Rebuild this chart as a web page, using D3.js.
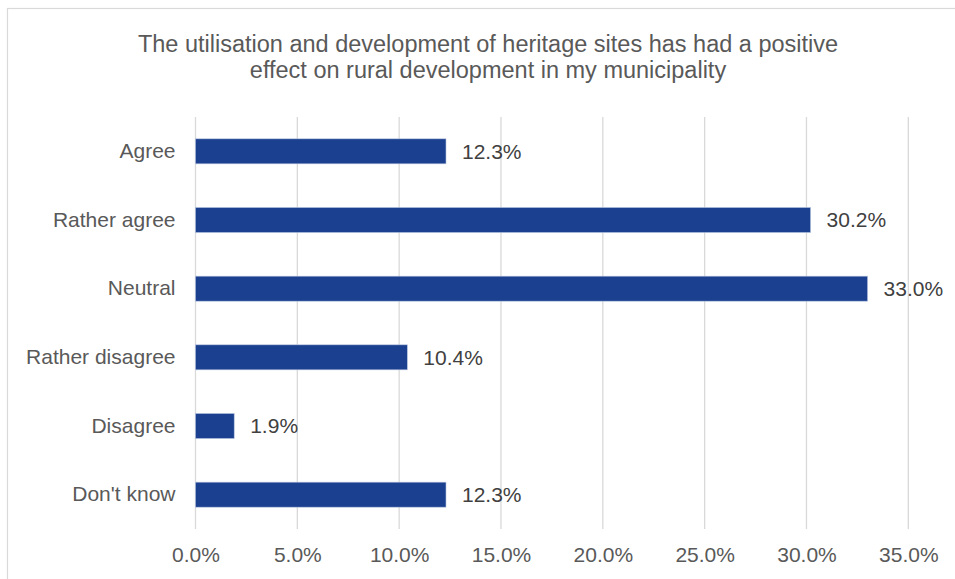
<!DOCTYPE html>
<html>
<head>
<meta charset="utf-8">
<script src="https://cdn.jsdelivr.net/npm/d3@7"></script>
<style>
  body { margin: 0; background: #fff; }
  svg { display: block; font-family: "Liberation Sans", Arial, sans-serif; }
</style>
</head>
<body>
<svg id="chart"></svg>
<script>
const width = 955;
const height = 579;
const titleLines = ["The utilisation and development of heritage sites has had a positive",
                    "effect on rural development in my municipality"];
const categories = ["Agree", "Rather agree", "Neutral", "Rather disagree", "Disagree", "Don't know"];
const values = [0.123, 0.302, 0.330, 0.104, 0.019, 0.123];
const tickValues = [0, 0.05, 0.10, 0.15, 0.20, 0.25, 0.30, 0.35];

const plotLeft = 195.5, plotRight = 908.3, plotTop = 117, plotBottom = 529;

const svg = d3.select('#chart').attr('width', width).attr('height', height);

// chart frame (runs off the right/bottom edge in the original)
svg.append('rect')
  .attr('x', 7.5).attr('y', 8.5)
  .attr('width', width).attr('height', height)
  .attr('fill', 'none').attr('stroke', '#d9d9d9').attr('stroke-width', 1.2);

const xs = d3.scaleLinear().domain([0, 0.35]).range([plotLeft, plotRight]);
const ys = d3.scaleBand().domain(categories).range([plotTop, plotBottom])
  .paddingInner(0.636).paddingOuter(0.318);

// title
svg.append('text')
  .attr('x', 488).attr('y', 52)
  .attr('text-anchor', 'middle')
  .attr('fill', '#595959')
  .style('font-size', '23.5px')
  .selectAll('tspan')
  .data(titleLines)
  .enter()
  .append('tspan')
  .attr('x', 488)
  .attr('dy', (d, i) => i == 0 ? 0 : 26)
  .text(d => d);

// gridlines
svg.append('g')
  .selectAll('line')
  .data(tickValues)
  .enter()
  .append('line')
  .attr('x1', d => xs(d)).attr('x2', d => xs(d))
  .attr('y1', plotTop).attr('y2', plotBottom)
  .attr('stroke', '#d9d9d9').attr('stroke-width', 1.3);

// x axis labels
const xa = d3.axisBottom(xs).tickValues(tickValues).tickFormat(d3.format('.1%')).tickSize(0).tickPadding(0);
const xg = svg.append('g')
  .attr('transform', `translate(0, ${plotBottom})`)
  .call(xa);
xg.select('.domain').remove();
xg.selectAll('text')
  .attr('y', 26).attr('dy', '0.35em')
  .attr('fill', '#595959')
  .style('font-size', '21px')
  .style('font-family', '"Liberation Sans", Arial, sans-serif');

// y axis labels
const ya = d3.axisLeft(ys).tickSize(0).tickPadding(20);
const yg = svg.append('g')
  .attr('transform', `translate(${plotLeft}, 0)`)
  .call(ya);
yg.select('.domain').remove();
yg.selectAll('text')
  .attr('fill', '#595959')
  .style('font-size', '21px')
  .style('font-family', '"Liberation Sans", Arial, sans-serif');

// bars
svg.append('g')
  .selectAll('rect')
  .data(values)
  .enter()
  .append('rect')
  .attr('x', xs(0))
  .attr('y', (d, i) => ys(categories[i]))
  .attr('width', d => xs(d) - xs(0))
  .attr('height', ys.bandwidth())
  .attr('fill', '#1a408f')
  .attr('stroke', '#b4c2de').attr('stroke-width', 0.6);

// data labels
svg.append('g')
  .selectAll('text')
  .data(values)
  .enter()
  .append('text')
  .attr('x', d => xs(d) + 16)
  .attr('y', (d, i) => ys(categories[i]) + ys.bandwidth() / 2)
  .attr('dy', '0.35em')
  .attr('fill', '#404040')
  .style('font-size', '21px')
  .text(d => d3.format('.1%')(d));
</script>
</body>
</html>
